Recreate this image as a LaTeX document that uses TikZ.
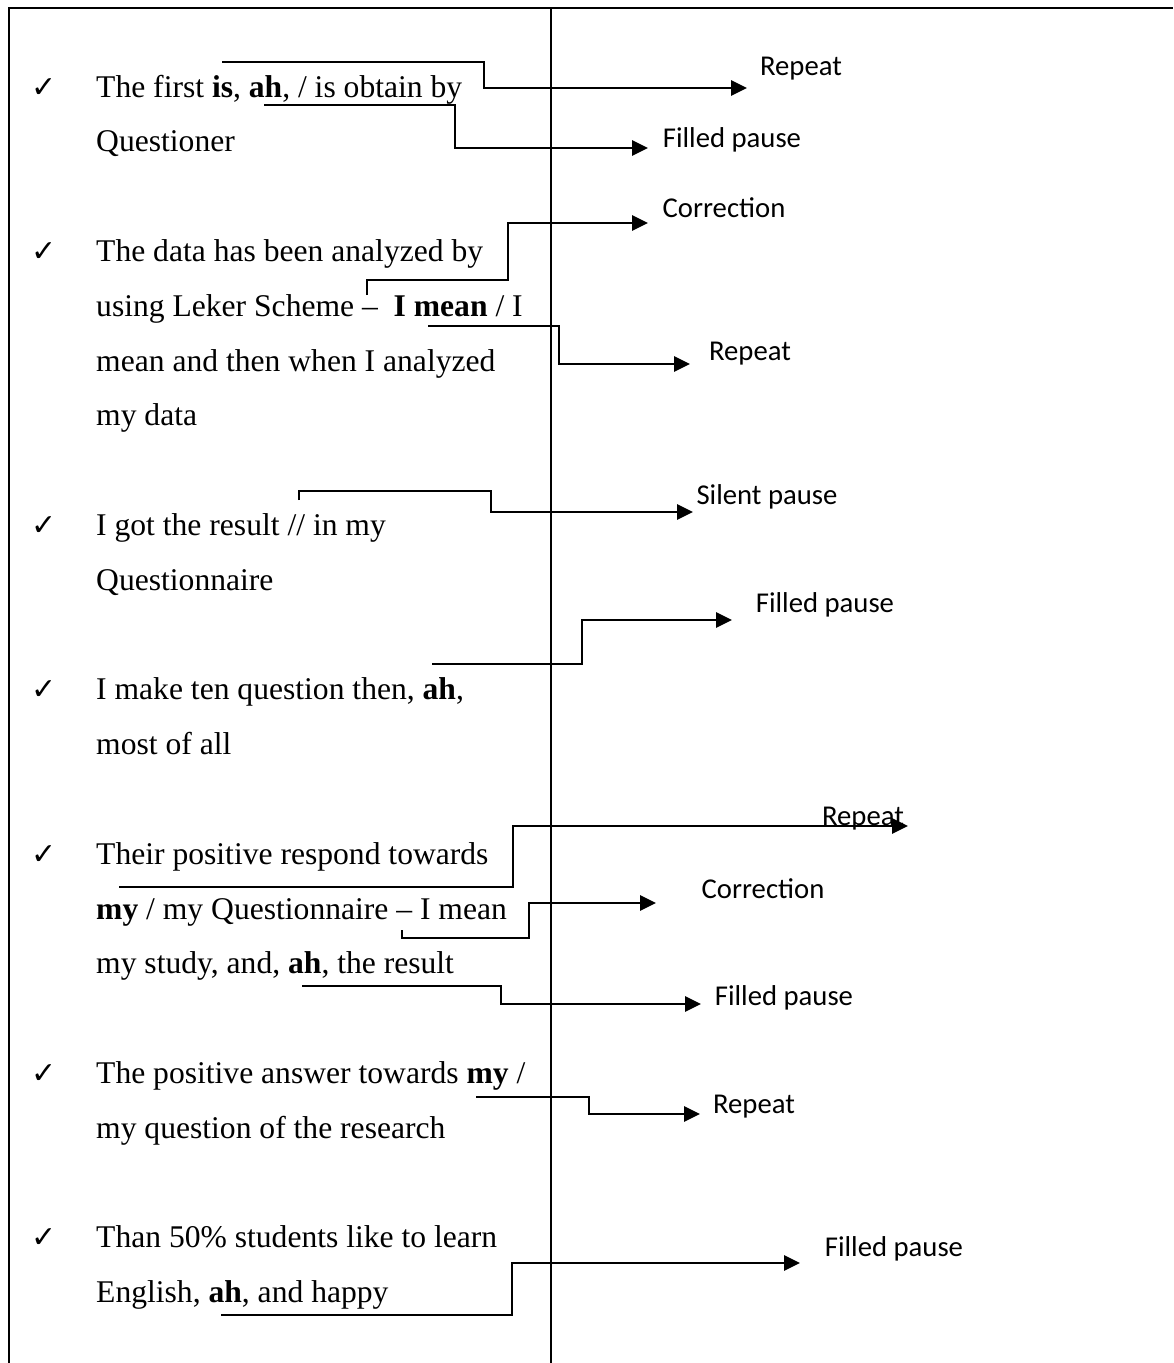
\documentclass[tikz,border=0pt]{standalone}
\usepackage{fontspec}
\setmainfont{Liberation Serif}
\newfontfamily\labelfont{Carlito}
\newfontfamily\symfont{DejaVu Sans}
\usetikzlibrary{arrows.meta}
\begin{document}
\begin{tikzpicture}[x=1pt,y=-1pt,
  rule/.style={line width=2pt},
  conn/.style={line width=2.8pt,-{Triangle[length=16pt,width=15pt]}},
  body/.style={anchor=base west,inner sep=0pt,font=\fontsize{31.6}{38}\selectfont},
  tickmark/.style={anchor=base west,inner sep=0pt,font=\symfont\fontsize{30}{34}\selectfont},
  tag/.style={anchor=base,inner sep=0pt,font=\labelfont\fontsize{28.7}{34}\selectfont}]
\useasboundingbox (0,0) rectangle (1173,1363);

% table rules
\draw[rule] (9,1363) -- (9,8) -- (1173,8);
\draw[rule] (551,8) -- (551,1363);

% baselines: 97 + 54.8 k
% item 1
\node[tickmark] (k1) at (31,97) {✓};
\node[body] (t1a) at (96,97) {The first \textbf{is}, \textbf{ah}, / is obtain by};
\node[body] (t1b) at (96,151.8) {Questioner};
% item 2
\node[tickmark] (k2) at (31,261.4) {✓};
\node[body] (t2a) at (96,261.4) {The data has been analyzed by};
\node[body] (t2b) at (96,316.2) {using Leker Scheme –\ \ \textbf{I mean} / I};
\node[body] (t2c) at (96,371) {mean and then when I analyzed};
\node[body] (t2d) at (96,425.8) {my data};
% item 3
\node[tickmark] (k3) at (31,535.4) {✓};
\node[body] (t3a) at (96,535.4) {I got the result // in my};
\node[body] (t3b) at (96,590.2) {Questionnaire};
% item 4
\node[tickmark] (k4) at (31,699.8) {✓};
\node[body] (t4a) at (96,699.8) {I make ten question then, \textbf{ah},};
\node[body] (t4b) at (96,754.6) {most of all};
% item 5
\node[tickmark] (k5) at (31,864.2) {✓};
\node[body] (t5a) at (96,864.2) {Their positive respond towards};
\node[body] (t5b) at (96,919) {\textbf{my} / my Questionnaire – I mean};
\node[body] (t5c) at (96,973.8) {my study, and, \textbf{ah}, the result};
% item 6
\node[tickmark] (k6) at (31,1083.4) {✓};
\node[body] (t6a) at (96,1083.4) {The positive answer towards \textbf{my} /};
\node[body] (t6b) at (96,1138.2) {my question of the research};
% item 7
\node[tickmark] (k7) at (31,1247.8) {✓};
\node[body] (t7a) at (96,1247.8) {Than 50\% students like to learn};
\node[body] (t7b) at (96,1302.6) {English, \textbf{ah}, and happy};

% category labels
\node[tag] (l1) at (801,75) {Repeat};
\node[tag] (l2) at (732,147) {Filled pause};
\node[tag] (l3) at (724,217) {Correction};
\node[tag] (l4) at (750,360) {Repeat};
\node[tag] (l5) at (767,504) {Silent pause};
\node[tag] (l6) at (825,612) {Filled pause};
\node[tag] (l7) at (863,825) {Repeat};
\node[tag] (l8) at (763,898) {Correction};
\node[tag] (l9) at (784,1005) {Filled pause};
\node[tag] (l10) at (754,1113) {Repeat};
\node[tag] (l11) at (894,1256) {Filled pause};

% connector points
\coordinate (a1) at (222,62);   \coordinate (b1) at (484,88);   \coordinate (c1) at (747,88);
\coordinate (a2) at (264,105);  \coordinate (b2) at (455,148);  \coordinate (c2) at (648,148);
\coordinate (a3) at (367,295);  \coordinate (m3) at (508,280);  \coordinate (b3) at (508,223);  \coordinate (c3) at (648,223);
\coordinate (a4) at (428,326);  \coordinate (b4) at (559,364);  \coordinate (c4) at (690,364);
\coordinate (a5) at (299,500);  \coordinate (m5) at (491,491);  \coordinate (b5) at (491,512);  \coordinate (c5) at (693,512);
\coordinate (a6) at (432,664);  \coordinate (b6) at (582,620);  \coordinate (c6) at (732,620);
\coordinate (a7) at (119,887);  \coordinate (b7) at (513,826);  \coordinate (c7) at (908,826);
\coordinate (a8) at (402,930);  \coordinate (m8) at (529,938);  \coordinate (b8) at (529,903);  \coordinate (c8) at (656,903);
\coordinate (a9) at (302,986);  \coordinate (b9) at (501,1004); \coordinate (c9) at (701,1004);
\coordinate (a10) at (476,1097); \coordinate (b10) at (589,1114); \coordinate (c10) at (700,1114);
\coordinate (a11) at (221,1315); \coordinate (b11) at (512,1263); \coordinate (c11) at (800,1263);

% connectors
\draw[conn] (a1) -| (b1) -- (c1);
\draw[conn] (a2) -| (b2) -- (c2);
\draw[conn] (a3) |- (m3) -- (b3) -- (c3);
\draw[conn] (a4) -| (b4) -- (c4);
\draw[conn] (a5) |- (m5) -- (b5) -- (c5);
\draw[conn] (a6) -| (b6) -- (c6);
\draw[conn] (a7) -| (b7) -- (c7);
\draw[conn] (a8) |- (m8) -- (b8) -- (c8);
\draw[conn] (a9) -| (b9) -- (c9);
\draw[conn] (a10) -| (b10) -- (c10);
\draw[conn] (a11) -| (b11) -- (c11);
\end{tikzpicture}
\end{document}
